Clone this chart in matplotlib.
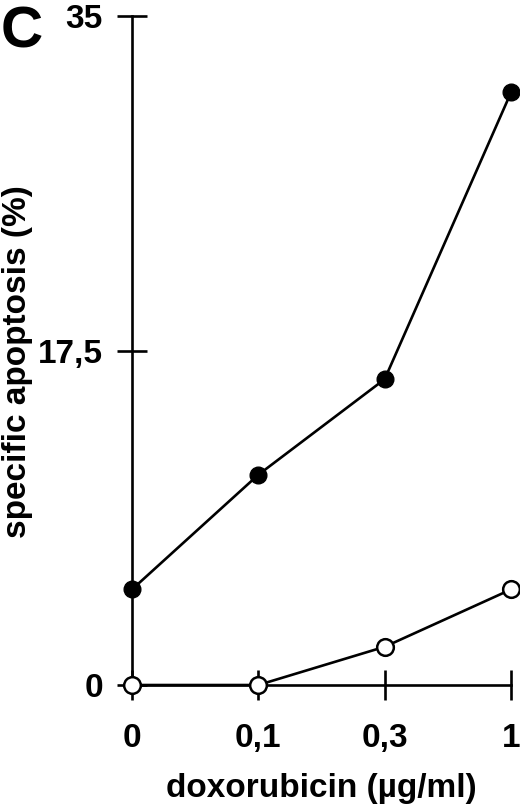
import matplotlib.pyplot as plt

plt.rcParams["font.family"] = ["Liberation Sans", "DejaVu Sans"]
plt.rcParams["font.weight"] = "bold"

doses = ["0", "0,1", "0,3", "1"]
treated = [5.0, 11.0, 16.0, 31.0]
control = [0.0, 0.0, 2.0, 5.0]
y_ticks = [0, 17.5, 35]
y_labels = ["0", "17,5", "35"]

fig = plt.figure(figsize=(5.2, 8.1), dpi=100)
ax = fig.add_axes([0.2538, 0.1543, 0.7289, 0.8259])

xs = list(range(len(doses)))
ax.plot(xs, treated, color="black", lw=1.9, marker="o", ms=12,
        mfc="black", mec="black", clip_on=False, zorder=3)
ax.plot(xs, control, color="black", lw=1.9, marker="o", ms=12,
        mfc="white", mec="black", mew=1.8, clip_on=False, zorder=4)

ax.set_xlim(0, 3)
ax.set_ylim(0, 35)
ax.set_xticks(xs)
ax.set_xticklabels(doses)
ax.set_yticks(y_ticks)
ax.set_yticklabels(y_labels)

for s in ["top", "right"]:
    ax.spines[s].set_visible(False)
for s in ["left", "bottom"]:
    ax.spines[s].set_linewidth(1.9)

ax.tick_params(axis="both", direction="inout", length=22, width=1.9,
               labelsize=24)
ax.tick_params(axis="x", pad=16)
ax.tick_params(axis="y", pad=10)

ax.set_xlabel("doxorubicin (µg/ml)", fontsize=24, fontweight="bold")
ax.set_ylabel("specific apoptosis (%)", fontsize=24, fontweight="bold")
ax.xaxis.set_label_coords(0.499, -0.132)
ax.yaxis.set_label_coords(-0.26, 0.484)

fig.text(0.002, 0.993, "C", fontsize=42, fontweight="bold", va="top", ha="left")

fig.savefig("out.png", dpi=100)
